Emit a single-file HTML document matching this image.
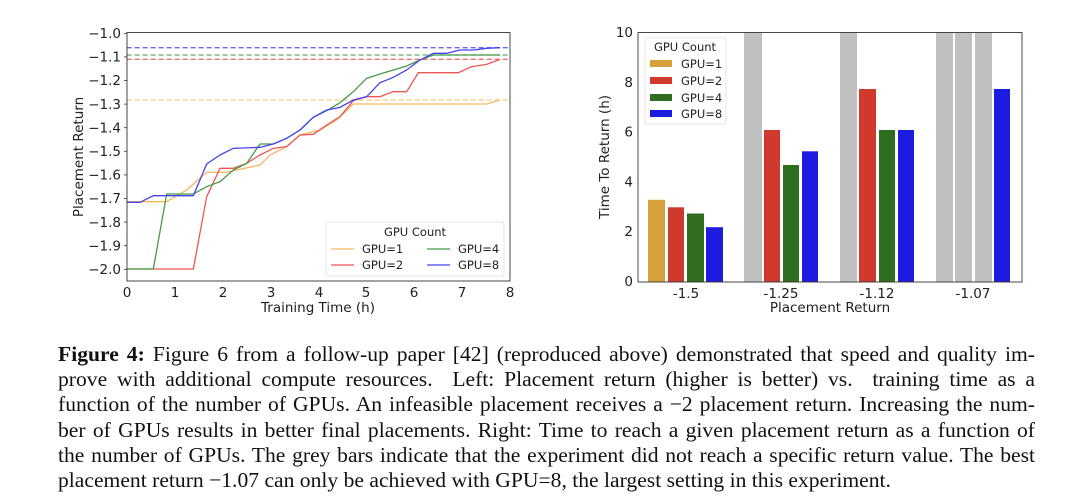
<!DOCTYPE html>
<html><head><meta charset="utf-8"><style>
body{margin:0;width:1080px;height:501px;background:#fff;overflow:hidden;position:relative}
svg{position:absolute;left:0;top:0}
.cap{position:absolute;left:58px;top:342px;width:977px;font-family:"Liberation Serif",serif;font-size:21.6px;color:#111}
.cap div{height:25.2px;line-height:25.2px;text-align:justify;text-align-last:justify;white-space:nowrap}
.cap div.last{text-align-last:left}
.t{font-family:"DejaVu Sans",sans-serif;font-size:13.5px;fill:#222}
</style></head><body>
<svg width="1080" height="501" viewBox="0 0 1080 501">
<g transform="translate(60,20) scale(0.33333)" fill="none" stroke-width="1.3">
<line x1="200" y1="83" x2="1350" y2="83" stroke="#6666ff" stroke-dasharray="5,3" vector-effect="non-scaling-stroke"/>
<line x1="200" y1="105" x2="1350" y2="105" stroke="#66aa66" stroke-dasharray="5,3" vector-effect="non-scaling-stroke"/>
<line x1="200" y1="118" x2="1350" y2="118" stroke="#f07070" stroke-dasharray="5,3" vector-effect="non-scaling-stroke"/>
<line x1="200" y1="240" x2="1350" y2="240" stroke="#f8c880" stroke-dasharray="5,3" vector-effect="non-scaling-stroke"/>
<polyline vector-effect="non-scaling-stroke" stroke="#f5b860" points="200,545 320,545 380,510 440,457 500,457 530,450 600,435 630,405 680,380 720,345 780,330 830,300 880,252 1280,252 1320,240"/>
<polyline vector-effect="non-scaling-stroke" stroke="#ee5555" points="200,747 400,747 440,530 480,445 520,445 560,430 600,405 640,385 680,380 720,345 760,343 800,315 840,290 880,242 920,230 960,230 1000,215 1040,215 1075,158 1195,158 1235,140 1280,133 1320,118"/>
<polyline vector-effect="non-scaling-stroke" stroke="#4a9a4a" points="200,747 280,747 320,522 400,522 440,500 480,485 520,450 560,430 600,372 640,372 680,355 720,330 760,292 800,272 840,248 880,215 920,175 960,162 1000,150 1040,138 1080,120 1120,105 1320,105"/>
<polyline vector-effect="non-scaling-stroke" stroke="#4444ee" points="200,547 240,547 280,527 400,527 440,432 480,405 520,385 600,382 640,372 680,355 720,330 760,292 800,270 840,262 880,240 920,230 960,188 1000,172 1040,150 1080,120 1120,100 1160,100 1200,90 1240,90 1280,85 1320,83"/>
</g>
<rect x="127" y="32.5" width="383" height="248.5" fill="none" stroke="#333" stroke-width="0.9"/>
<g class="t" text-anchor="end">
<text x="121" y="38">−1.0</text><text x="121" y="61.6">−1.1</text><text x="121" y="85.2">−1.2</text><text x="121" y="108.8">−1.3</text><text x="121" y="132.4">−1.4</text><text x="121" y="156">−1.5</text><text x="121" y="179.6">−1.6</text><text x="121" y="203.2">−1.7</text><text x="121" y="226.8">−1.8</text><text x="121" y="250.4">−1.9</text><text x="121" y="274">−2.0</text>
</g>
<g stroke="#333" stroke-width="0.8">
<line x1="124" y1="33.3" x2="127" y2="33.3"/><line x1="124" y1="56.9" x2="127" y2="56.9"/><line x1="124" y1="80.5" x2="127" y2="80.5"/><line x1="124" y1="104.1" x2="127" y2="104.1"/><line x1="124" y1="127.7" x2="127" y2="127.7"/><line x1="124" y1="151.3" x2="127" y2="151.3"/><line x1="124" y1="174.9" x2="127" y2="174.9"/><line x1="124" y1="198.5" x2="127" y2="198.5"/><line x1="124" y1="222.1" x2="127" y2="222.1"/><line x1="124" y1="245.7" x2="127" y2="245.7"/><line x1="124" y1="269.3" x2="127" y2="269.3"/>
</g>
<g class="t" text-anchor="middle">
<text x="127" y="297">0</text><text x="175" y="297">1</text><text x="223" y="297">2</text><text x="271" y="297">3</text><text x="319" y="297">4</text><text x="366" y="297">5</text><text x="414" y="297">6</text><text x="462" y="297">7</text><text x="510" y="297">8</text>
<text x="318" y="312">Training Time (h)</text>
<text transform="translate(83,157) rotate(-90)">Placement Return</text>
</g>
<rect x="326" y="222" width="178" height="54" fill="#fff" stroke="#ddd" stroke-width="0.8" rx="2"/>
<g class="t">
<text x="415" y="236" text-anchor="middle" style="font-size:11.5px">GPU Count</text>
<line x1="331" y1="249" x2="354" y2="249" stroke="#f5b860" stroke-width="1.3"/><text x="362" y="253" style="font-size:11.5px">GPU=1</text>
<line x1="331" y1="265" x2="354" y2="265" stroke="#ee5555" stroke-width="1.3"/><text x="362" y="269" style="font-size:11.5px">GPU=2</text>
<line x1="427" y1="249" x2="450" y2="249" stroke="#4a9a4a" stroke-width="1.3"/><text x="458" y="253" style="font-size:11.5px">GPU=4</text>
<line x1="427" y1="265" x2="450" y2="265" stroke="#4444ee" stroke-width="1.3"/><text x="458" y="269" style="font-size:11.5px">GPU=8</text>
</g>
<g>
<rect x="648" y="199.8" width="17" height="82.2" fill="#d6a03a"/>
<rect x="668" y="207.3" width="16" height="74.7" fill="#d03a2c"/>
<rect x="687" y="213.5" width="17" height="68.5" fill="#2f6e1f"/>
<rect x="706" y="227.2" width="17" height="54.8" fill="#1c1ce0"/>
<rect x="744" y="33" width="18" height="249" fill="#c0c0c0"/>
<rect x="764" y="130" width="16" height="152" fill="#d03a2c"/>
<rect x="783" y="165" width="16" height="117" fill="#2f6e1f"/>
<rect x="802" y="151.3" width="16" height="130.7" fill="#1c1ce0"/>
<rect x="840" y="33" width="17" height="249" fill="#c0c0c0"/>
<rect x="859" y="89" width="17" height="193" fill="#d03a2c"/>
<rect x="879" y="130" width="16" height="152" fill="#2f6e1f"/>
<rect x="898" y="130" width="16" height="152" fill="#1c1ce0"/>
<rect x="936" y="33" width="17" height="249" fill="#c0c0c0"/>
<rect x="955" y="33" width="17" height="249" fill="#c0c0c0"/>
<rect x="975" y="33" width="17" height="249" fill="#c0c0c0"/>
<rect x="994" y="89" width="16" height="193" fill="#1c1ce0"/>
</g>
<rect x="638" y="32.5" width="384" height="249.5" fill="none" stroke="#333" stroke-width="0.9"/>
<g class="t" text-anchor="end">
<text x="633" y="37">10</text><text x="633" y="86.8">8</text><text x="633" y="136.6">6</text><text x="633" y="186.4">4</text><text x="633" y="236.2">2</text><text x="633" y="286">0</text>
</g>
<g class="t" text-anchor="middle">
<text x="686" y="298">-1.5</text><text x="781" y="298">-1.25</text><text x="877" y="298">-1.12</text><text x="973" y="298">-1.07</text>
<text x="830" y="312">Placement Return</text>
<text transform="translate(609,157) rotate(-90)">Time To Return (h)</text>
</g>
<rect x="645" y="38" width="81" height="86" fill="#fff" fill-opacity="0.85" stroke="#ddd" stroke-width="0.8" rx="2"/>
<g class="t">
<text x="685" y="51" text-anchor="middle" style="font-size:11.5px">GPU Count</text>
<rect x="650" y="60" width="22" height="7" fill="#d6a03a"/><text x="681" y="68" style="font-size:11.5px">GPU=1</text>
<rect x="650" y="77" width="22" height="7" fill="#d03a2c"/><text x="681" y="85" style="font-size:11.5px">GPU=2</text>
<rect x="650" y="94" width="22" height="7" fill="#2f6e1f"/><text x="681" y="102" style="font-size:11.5px">GPU=4</text>
<rect x="650" y="110" width="22" height="7" fill="#1c1ce0"/><text x="681" y="118" style="font-size:11.5px">GPU=8</text>
</g>
</svg>
<div class="cap">
<div><b>Figure 4:</b> Figure 6 from a follow-up paper [42] (reproduced above) demonstrated that speed and quality im-</div>
<div>prove with additional compute resources. &nbsp;Left: Placement return (higher is better) vs. &nbsp;training time as a</div>
<div>function of the number of GPUs. An infeasible placement receives a −2 placement return. Increasing the num-</div>
<div>ber of GPUs results in better final placements. Right: Time to reach a given placement return as a function of</div>
<div>the number of GPUs. The grey bars indicate that the experiment did not reach a specific return value. The best</div>
<div class="last">placement return −1.07 can only be achieved with GPU=8, the largest setting in this experiment.</div>
</div>
</body></html>
